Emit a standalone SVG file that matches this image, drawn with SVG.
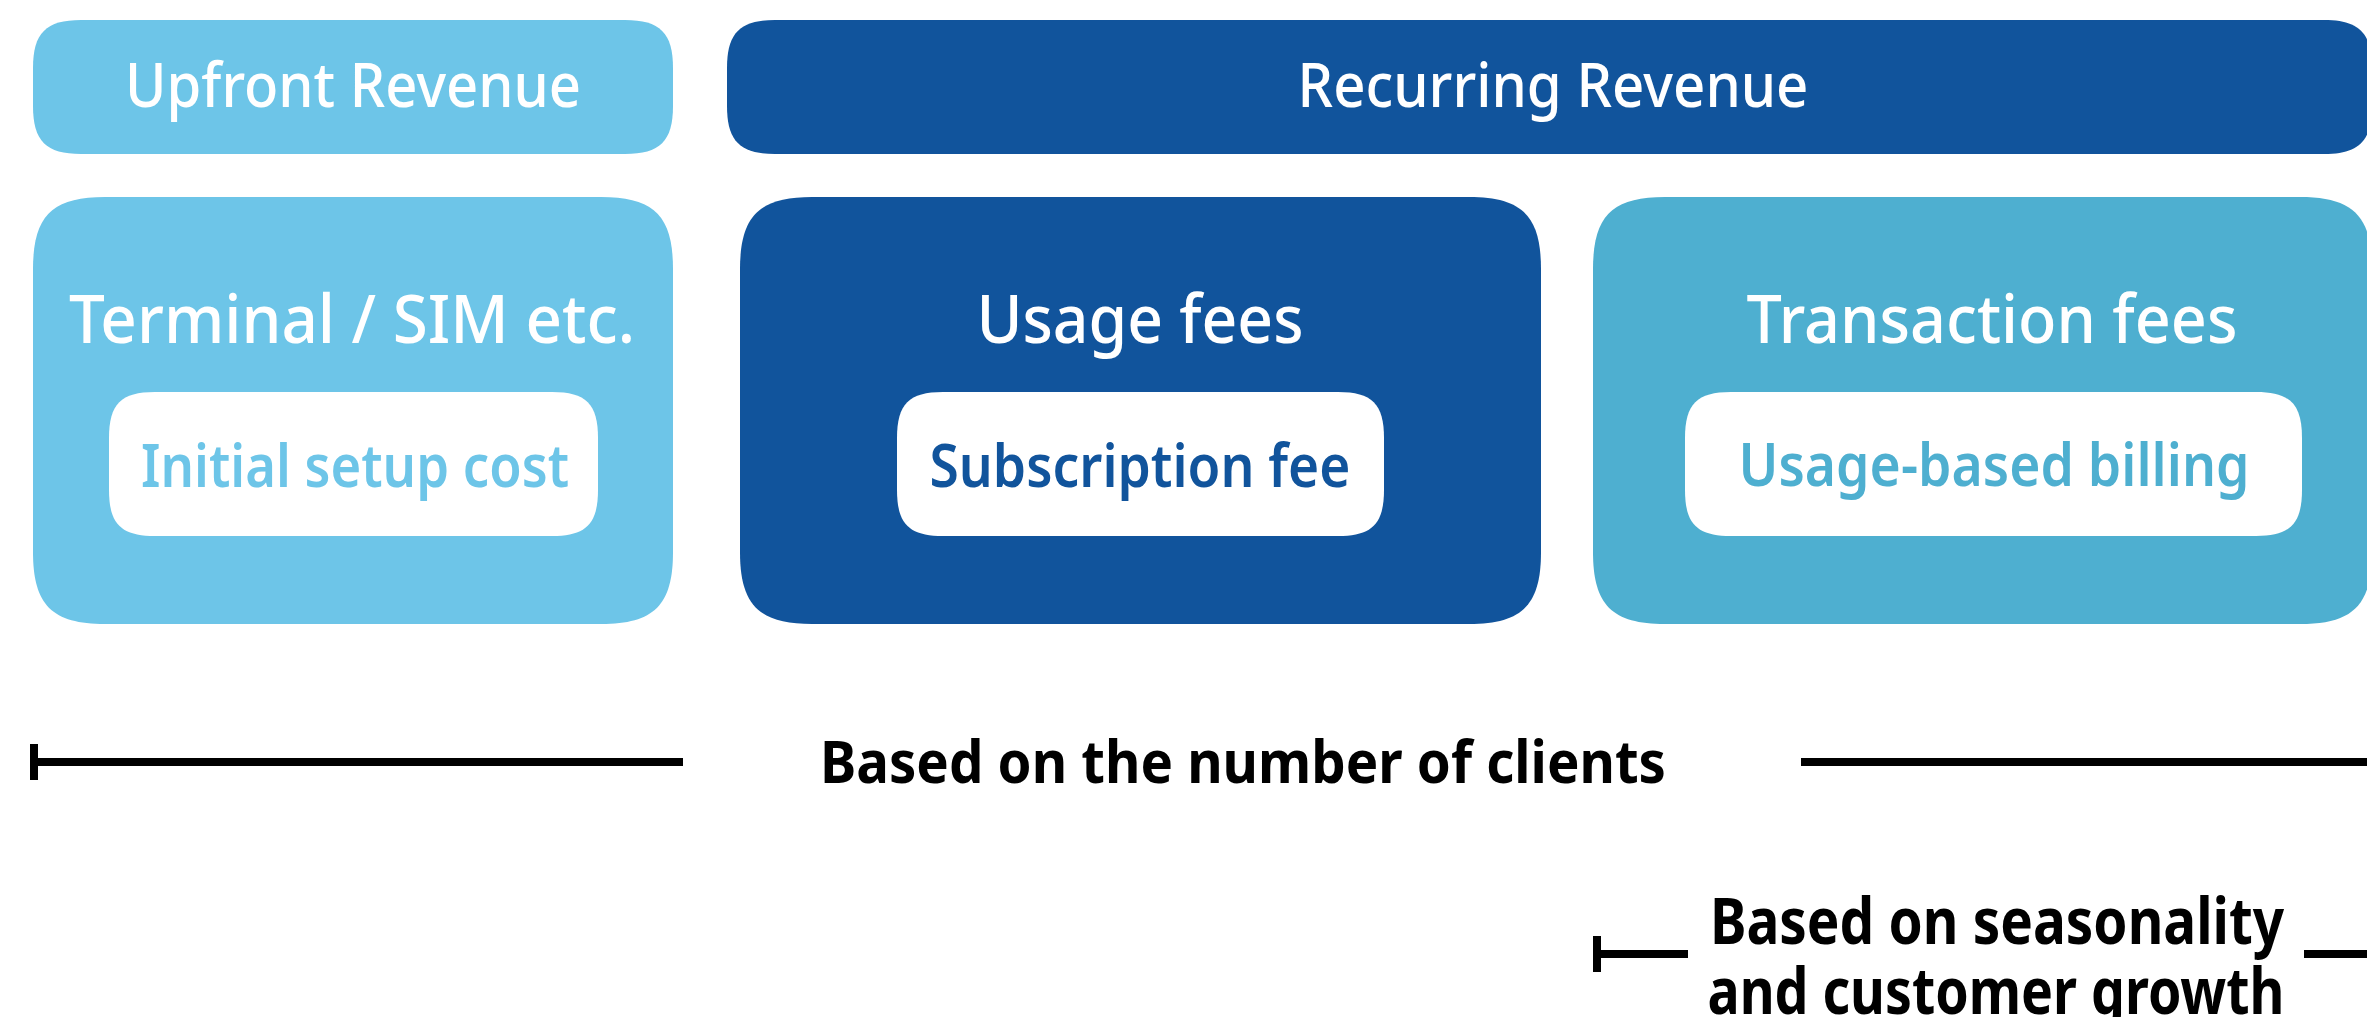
<svg xmlns="http://www.w3.org/2000/svg" width="2367" height="1017" viewBox="0 0 2367 1017">
  <defs>
    <style>
      .light { fill: #6DC5E8; }
      .dark { fill: #11549C; }
      .teal { fill: #4EAFD0; }
      .white { fill: #FFFFFF; }
      text { font-family: "Noto Sans", "Liberation Sans", sans-serif; text-anchor: middle; }
      .head { font-size: 62px; font-weight: 500; fill: #FFFFFF; }
      .title { font-size: 67px; font-weight: 500; fill: #FFFFFF; }
      .inner { font-size: 59px; font-weight: 600; }
      .note { font-size: 60px; font-weight: 700; fill: #000000; }
      .note-lg { font-size: 64px; }
      .rule { stroke: #000000; stroke-width: 8; fill: none; }
    </style>
    <marker id="bar" viewBox="0 0 8 36" refX="4" refY="18" markerWidth="8" markerHeight="36" markerUnits="userSpaceOnUse" orient="auto">
      <rect x="0" y="0" width="8" height="36" fill="#000000"/>
    </marker>
  </defs>
  <rect width="2367" height="1017" fill="#FFFFFF"/>

  <!-- header bars -->
  <g id="upfront-revenue">
    <path class="light" d="M81,20 H625 C660,20 673,33 673,68 V106 C673,141 660,154 625,154 H81 C46,154 33,141 33,106 V68 C33,33 46,20 81,20 Z"/>
    <text class="head" x="353" y="107" textLength="456" lengthAdjust="spacingAndGlyphs">Upfront Revenue</text>
  </g>
  <g id="recurring-revenue">
    <path class="dark" d="M775,20 H2324 C2359,20 2372,33 2372,68 V106 C2372,141 2359,154 2324,154 H775 C740,154 727,141 727,106 V68 C727,33 740,20 775,20 Z"/>
    <text class="head" x="1553" y="107" textLength="511" lengthAdjust="spacingAndGlyphs">Recurring Revenue</text>
  </g>

  <!-- revenue categories -->
  <g id="terminal-sim">
    <path class="light" d="M105,197 H601 C654,197 673,216 673,269 V552 C673,605 654,624 601,624 H105 C52,624 33,605 33,552 V269 C33,216 52,197 105,197 Z"/>
    <text class="title" x="352" y="343" textLength="566" lengthAdjust="spacingAndGlyphs">Terminal / SIM etc.</text>
    <g id="initial-setup-cost">
      <path class="white" d="M155,392 H552 C586,392 598,404 598,438 V490 C598,524 586,536 552,536 H155 C121,536 109,524 109,490 V438 C109,404 121,392 155,392 Z"/>
      <text class="inner light" x="355" y="487" textLength="428" lengthAdjust="spacingAndGlyphs">Initial setup cost</text>
    </g>
  </g>

  <g id="usage-fees">
    <path class="dark" d="M812,197 H1469 C1522,197 1541,216 1541,269 V552 C1541,605 1522,624 1469,624 H812 C759,624 740,605 740,552 V269 C740,216 759,197 812,197 Z"/>
    <text class="title" x="1140" y="343" textLength="327" lengthAdjust="spacingAndGlyphs">Usage fees</text>
    <g id="subscription-fee">
      <path class="white" d="M943,392 H1338 C1372,392 1384,404 1384,438 V490 C1384,524 1372,536 1338,536 H943 C909,536 897,524 897,490 V438 C897,404 909,392 943,392 Z"/>
      <text class="inner dark" x="1140" y="487" textLength="421" lengthAdjust="spacingAndGlyphs">Subscription fee</text>
    </g>
  </g>

  <g id="transaction-fees">
    <path class="teal" d="M1665,197 H2300 C2353,197 2372,216 2372,269 V552 C2372,605 2353,624 2300,624 H1665 C1612,624 1593,605 1593,552 V269 C1593,216 1612,197 1665,197 Z"/>
    <text class="title" x="1992" y="343" textLength="491" lengthAdjust="spacingAndGlyphs">Transaction fees</text>
    <g id="usage-based-billing">
      <path class="white" d="M1731,392 H2256 C2290,392 2302,404 2302,438 V490 C2302,524 2290,536 2256,536 H1731 C1697,536 1685,524 1685,490 V438 C1685,404 1697,392 1731,392 Z"/>
      <text class="inner teal" x="1994" y="486" textLength="511" lengthAdjust="spacingAndGlyphs">Usage-based billing</text>
    </g>
  </g>

  <!-- span rules -->
  <g id="connectors">
    <path class="rule" d="M34,762 H683" marker-start="url(#bar)"/>
    <path class="rule" d="M1801,762 H2375"/>
    <path class="rule" d="M1597,954 H1688" marker-start="url(#bar)"/>
    <path class="rule" d="M2304,954 H2375"/>
  </g>

  <g id="span-labels">
    <text class="note" x="1243" y="783" textLength="846" lengthAdjust="spacingAndGlyphs">Based on the number of clients</text>
    <text class="note note-lg" x="1997" y="944" textLength="574" lengthAdjust="spacingAndGlyphs">Based on seasonality</text>
    <text class="note note-lg" x="1996" y="1014" textLength="577" lengthAdjust="spacingAndGlyphs">and customer growth</text>
  </g>
</svg>
